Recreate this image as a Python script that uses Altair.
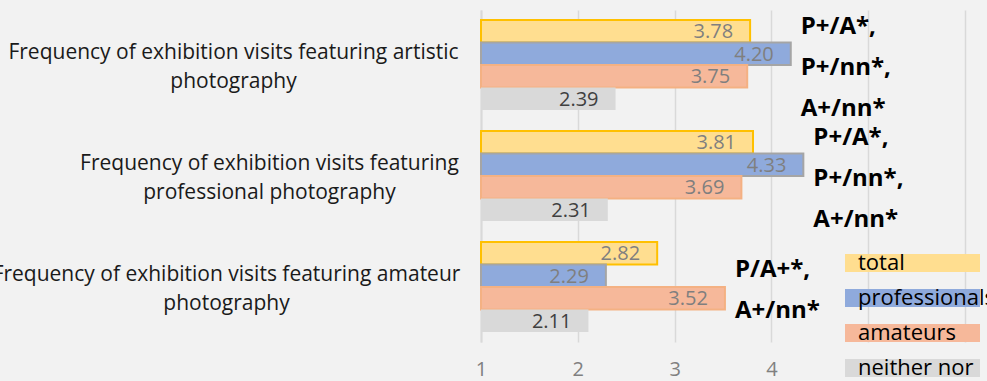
import altair as alt
import pandas as pd

categories = [
    "Frequency of exhibition visits featuring artistic photography",
    "Frequency of exhibition visits featuring professional photography",
    "Frequency of exhibition visits featuring amateur photography",
]
category_lines = [
    ["Frequency of exhibition visits featuring artistic", "photography"],
    ["Frequency of exhibition visits featuring", "professional photography"],
    ["Frequency of exhibition visits featuring amateur", "photography"],
]
series = ["total", "professionals", "amateurs", "neither nor"]
total = [3.78, 3.81, 2.82]
professionals = [4.20, 4.33, 2.29]
amateurs = [3.75, 3.69, 3.52]
neither = [2.39, 2.31, 2.11]
annotations = [
    ["P+/A*,", "P+/nn*,", "A+/nn*"],
    ["P+/A*,", "P+/nn*,", "A+/nn*"],
    ["P/A+*,", "A+/nn*"],
]
x_ticks = [1, 2, 3, 4, 5, 6]

fill_colors = ["#ffde90", "#8faadc", "#f6b89a", "#d9d9d9"]
stroke_colors = ["#ffc000", "#a5a5a5", "#f4b183", "#d9d9d9"]

rows = []
for i, cat in enumerate(categories):
    for s, vals in zip(series, [total, professionals, amateurs, neither]):
        rows.append({"category": cat, "series": s, "value": vals[i], "label": f"{vals[i]:.2f}"})
df = pd.DataFrame(rows)

ann = pd.DataFrame({
    "category": categories,
    "text": annotations,
    "anchor": [max(a, b, c, d) for a, b, c, d in zip(total, professionals, amateurs, neither)],
})

def js(s):
    return "'" + s.replace("'", "\\'") + "'"

label_expr = ""
for cat, lines in zip(categories[:-1], category_lines[:-1]):
    label_expr += f"datum.value == {js(cat)} ? [{', '.join(js(l) for l in lines)}] : "
label_expr += "[" + ", ".join(js(l) for l in category_lines[-1]) + "]"

label_pad = {
    "condition": [
        {"test": f"datum.value == {js(categories[1])}", "value": 212},
        {"test": f"datum.value == {js(categories[2])}", "value": 255},
    ],
    "value": 248,
}

x_scale = alt.Scale(domain=[1, 6], nice=False, zero=False)
y_scale = alt.Scale(domain=categories, paddingInner=0.19, paddingOuter=0.09)
yoff_scale = alt.Scale(domain=series, paddingInner=0, paddingOuter=0)

x_axis = alt.Axis(values=x_ticks, format="d", grid=True, gridColor="#d9d9d9", gridWidth=1.5,
                  domain=False, ticks=False, labelFontSize=20, labelColor="#808080",
                  labelFont="Open Sans", labelPadding=17, labelFlush=False, title=None)
y_axis = alt.Axis(title=None, domain=True, domainColor="#d9d9d9", domainWidth=2,
                  ticks=False, labelAlign="center", labelBaseline="middle",
                  labelFontSize=21, labelLineHeight=29, labelLimit=1000,
                  labelColor="#1a1a1a", labelFont="Open Sans",
                  labelOffset=alt.ExprRef("-12"),
                  labelPadding=label_pad, labelExpr=label_expr)

base = alt.Chart(df)

bars = base.mark_bar().encode(
    x=alt.X("value:Q", scale=x_scale, axis=x_axis),
    x2=alt.X2(datum=1),
    y=alt.Y("category:N", scale=y_scale, axis=y_axis, sort=categories),
    yOffset=alt.YOffset("series:N", scale=yoff_scale, sort=series),
    fill=alt.Fill("series:N", scale=alt.Scale(domain=series, range=fill_colors),
                  legend=alt.Legend(title=None, orient="none", legendX=364, legendY=244,
                                    symbolType="M-1,-0.1333H1V0.1333H-1Z", symbolSize=18225,
                                    symbolStrokeWidth=0, clipHeight=18, rowPadding=13,
                                    labelOffset=alt.ExprRef("-122"), labelFontSize=22,
                                    labelFont="Open Sans",
                                    labelColor="#000000", labelLimit=400, padding=0,
                                    symbolOpacity=1)),
    stroke=alt.Stroke("series:N", scale=alt.Scale(domain=series, range=stroke_colors), legend=None),
    strokeWidth=alt.condition("datum.series == 'neither nor'", alt.value(0), alt.value(2)),
)

values = base.mark_text(align="right", baseline="middle", dx=-17, dy=1, fontSize=20,
                        font="Open Sans").encode(
    x=alt.X("value:Q", scale=x_scale),
    y=alt.Y("category:N", scale=y_scale, sort=categories),
    yOffset=alt.YOffset("series:N", scale=yoff_scale, sort=series),
    text=alt.Text("label:N"),
    color=alt.condition("datum.series == 'neither nor'", alt.value("#404040"), alt.value("#7f7f7f")),
)

notes = alt.Chart(ann).mark_text(align="left", baseline="middle", dx=10,
                                 dy=alt.ExprRef("3 - (length(datum.text) - 1) * 20.5"),
                                 fontSize=24, fontWeight="bold", font="Open Sans",
                                 lineHeight=41, color="#000000").encode(
    x=alt.X("anchor:Q", scale=x_scale),
    y=alt.Y("category:N", scale=y_scale, sort=categories),
    text=alt.Text("text:N"),
)

chart = alt.layer(bars, values, notes).properties(
    width=484, height=332,
    autosize=alt.AutoSizeParams(type="none"),
    padding={"left": 481, "top": 10, "right": 22, "bottom": 39},
    background="#f2f2f2",
).configure_view(stroke=None)

chart.save("out.html", embed_options={"renderer": "svg", "actions": False})
